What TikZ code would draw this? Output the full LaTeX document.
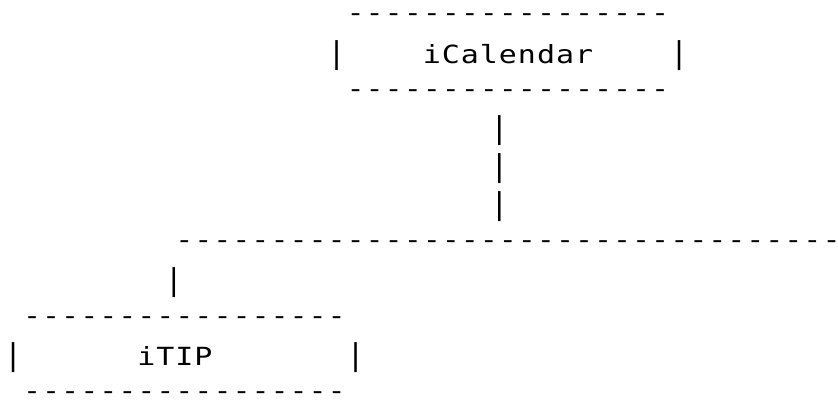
\documentclass[tikz,border=0pt]{standalone}
\usepackage{fontspec}
\newfontfamily\asciifont[FakeStretch=1.2,LetterSpace=3.9]{DejaVu Sans Mono}
\begin{document}
\begin{tikzpicture}[x=1pt,y=-1pt,
  asc/.style={font=\asciifont\fontsize{25}{30}\selectfont, inner sep=0pt, anchor=base, text=black},
  dashrow/.style={asc, yshift=4pt},
  barch/.style={asc}]
\useasboundingbox (0,0) rectangle (838,404);
\clip (0,0) rectangle (838,404);
\def\cw{19.03}\def\ox{3.7}\def\ry{37.83}\def\oy{25.4}
\newcommand\vbar{\scalebox{1}[1.2]{|}}
% iCalendar box
\node[dashrow] (calTop) at ({\ox+\cw*26.5},{\oy+\ry*0}) {-----------------};
\node[barch] (calL)   at ({\ox+\cw*17.5},{\oy+\ry*1}) {\vbar};
\node[asc] (cal)      at ({\ox+\cw*26.5},{\oy+\ry*1}) {iCalendar};
\node[barch] (calR)   at ({\ox+\cw*35.5},{\oy+\ry*1}) {\vbar};
\node[dashrow] (calBot) at ({\ox+\cw*26.5},{\oy+\ry*2}) {-----------------};
% vertical connector
\node[barch] (v1) at (499.3,{\oy+\ry*3}) {\vbar};
\node[barch] (v2) at (499.3,{\oy+\ry*4}) {\vbar};
\node[barch] (v3) at (499.3,{\oy+\ry*5}) {\vbar};
% horizontal bus
\node[dashrow] (bus) at ({\ox+\cw*27},{\oy+\ry*6}) {------------------------------------};
\node[barch] (v4) at (174,{\oy+\ry*7}) {\vbar};
% iTIP box
\node[dashrow] (tipTop) at ({\ox+\cw*9.5},{\oy+\ry*8}) {-----------------};
\node[barch] (tipL)   at ({\ox+\cw*0.5},{\oy+\ry*9}) {\vbar};
\node[asc] (tip)      at ({\ox+\cw*9},{\oy+\ry*9}) {iTIP};
\node[barch] (tipR)   at ({\ox+\cw*18.5},{\oy+\ry*9}) {\vbar};
\node[dashrow] (tipBot) at ({\ox+\cw*9.5},{\oy+\ry*10}) {-----------------};
\end{tikzpicture}
\end{document}
